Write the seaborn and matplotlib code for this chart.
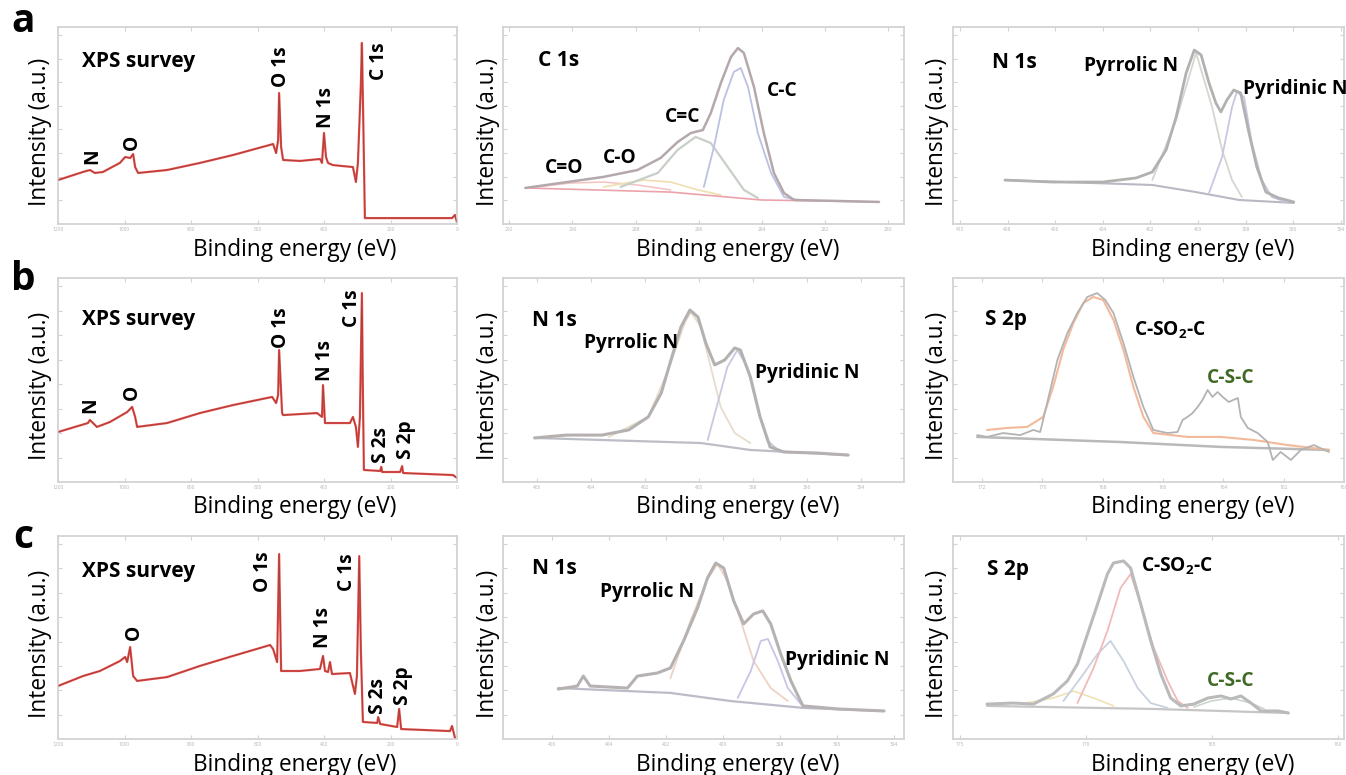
import numpy as np
import matplotlib
matplotlib.use("Agg")
import matplotlib.pyplot as plt
import seaborn as sns

# ---------------- survey spectra (binding energy in eV, intensity in a.u.) ----------------
survey_a_E = [1200, 1125, 1104, 1089, 1065, 1014, 998, 983, 974, 968, 959, 872, 773, 674, 553, 544,
              538, 535, 529, 523, 472, 412, 406, 400, 394, 388, 373, 313, 304, 298, 289, 286, 283,
              277, 171, 15, 6, 0]
survey_a_I = [22.3, 26.4, 27.4, 25.9, 26.4, 31.0, 34.0, 33.5, 35.5, 28.9, 25.9, 27.4, 31.0, 35.0,
              40.6, 36.0, 42.6, 66.5, 39.1, 32.5, 32.0, 33.0, 31.0, 46.2, 34.0, 31.0, 29.9, 28.9,
              21.3, 31.0, 71.6, 91.9, 62.9, 3.0, 3.0, 3.0, 4.6, 0.8]

survey_b_E = [1200, 1110, 1104, 1083, 1044, 992, 977, 968, 962, 872, 773, 674, 556, 544, 538, 535,
              526, 523, 421, 406, 403, 397, 322, 313, 304, 298, 292, 286, 283, 280, 231, 228, 225,
              171, 165, 162, 12, 0]
survey_b_I = [24.5, 28.9, 30.4, 27.0, 29.4, 34.3, 36.8, 31.9, 27.0, 28.9, 33.8, 37.7, 41.7, 38.7,
              42.6, 64.7, 33.8, 32.8, 33.8, 31.9, 47.5, 28.9, 28.9, 31.9, 27.0, 17.2, 31.9, 92.6,
              43.6, 5.9, 5.4, 7.4, 4.9, 4.9, 7.8, 4.4, 3.4, 2.0]

survey_c_E = [1200, 1125, 1074, 1014, 998, 992, 983, 974, 962, 872, 773, 674, 562, 553, 541, 535,
              529, 472, 412, 403, 397, 388, 382, 376, 322, 307, 301, 294, 289, 283, 240, 237, 231,
              180, 174, 168, 21, 15, 6]
survey_c_I = [26.1, 31.0, 33.5, 38.4, 40.4, 37.9, 45.3, 31.0, 28.6, 30.5, 36.0, 40.9, 46.3, 44.3,
              37.9, 91.1, 33.5, 33.5, 34.5, 40.9, 33.5, 33.0, 37.9, 32.0, 32.5, 22.2, 31.0, 90.1,
              42.9, 8.4, 7.9, 10.8, 7.4, 5.9, 14.8, 4.9, 3.9, 6.4, 0.5]

# ---------------- C 1s (a) ----------------
c1s_E = [291.49, 289.02, 287.94, 287.21, 286.67, 286.25, 285.87, 285.62, 285.30, 284.98, 284.76,
         284.57, 284.25, 283.94, 283.62, 283.30, 282.98, 280.29]
c1s_env = [18.3, 23.9, 27.4, 33.5, 41.6, 46.2, 47.7, 56.3, 71.6, 84.8, 89.3, 86.8, 69.5, 46.2,
           25.9, 15.7, 12.2, 11.2]
c1s_bg_E = [291.49, 286.89, 284.03, 280.29]
c1s_bg_I = [18.3, 16.2, 12.2, 11.2]
cc_E = [285.84, 285.52, 285.21, 284.89, 284.67, 284.44, 284.13, 283.71, 283.30, 282.86]
cc_I = [18.8, 39.1, 62.9, 77.2, 79.2, 69.5, 46.2, 25.9, 13.7, 12.2]
cdc_E = [288.48, 287.30, 286.67, 286.10, 285.62, 285.08, 284.57, 284.13]
cdc_I = [18.8, 25.9, 37.6, 44.2, 41.1, 28.9, 17.3, 13.2]
co_E = [289.02, 287.75, 286.89, 286.03, 285.30]
co_I = [18.8, 22.3, 21.3, 17.3, 14.7]
cdo_E = [291.49, 290.06, 289.02, 287.94, 286.89]
cdo_I = [18.3, 20.8, 21.3, 19.8, 17.3]

# ---------------- N 1s (a) ----------------
n1s_a_E = [408.11, 406.11, 404.01, 402.59, 401.92, 401.34, 400.92, 400.50, 400.16, 399.87, 399.54,
           399.25, 399.04, 398.79, 398.50, 398.21, 397.86, 397.53, 397.15, 396.61, 395.98]
n1s_a_env = [22.3, 21.3, 21.3, 23.4, 26.4, 37.6, 54.3, 76.6, 88.3, 85.8, 71.6, 61.4, 56.9, 62.9,
             68.0, 66.5, 46.2, 28.9, 16.2, 13.2, 11.2]
n1s_a_bg_E = [408.11, 401.92, 400.08, 398.28, 395.98]
n1s_a_bg_I = [22.3, 19.8, 16.2, 12.2, 10.7]
pyrr_a_E = [401.92, 400.92, 400.08, 399.41, 398.99, 398.57, 398.16]
pyrr_a_I = [22.3, 52.8, 86.8, 59.4, 37.6, 22.3, 13.7]
pyri_a_E = [399.54, 398.99, 398.57, 398.37, 398.07, 397.74, 397.32, 396.90, 396.31]
pyri_a_I = [15.7, 34.0, 59.4, 67.0, 64.5, 41.1, 22.3, 13.7, 11.2]

# ---------------- N 1s (b) ----------------
n1s_b_E = [406.08, 404.91, 403.59, 402.60, 401.87, 401.39, 401.03, 400.66, 400.33, 400.03, 399.74,
           399.41, 399.04, 398.67, 398.46, 398.09, 397.73, 397.36, 396.85, 395.64, 394.47]
n1s_b_env = [21.6, 23.0, 23.0, 25.5, 31.9, 43.6, 59.8, 76.0, 84.3, 80.9, 68.1, 57.4, 59.8, 65.7,
             64.7, 51.5, 31.9, 17.2, 14.7, 14.2, 13.2]
n1s_b_bg_E = [406.08, 399.92, 398.09, 394.47]
n1s_b_bg_I = [21.6, 19.1, 15.7, 13.2]
pyrr_b_E = [403.33, 401.87, 401.13, 400.51, 400.29, 399.92, 399.56, 399.19, 398.67, 398.09]
pyrr_b_I = [22.1, 31.9, 54.9, 78.4, 83.3, 76.0, 56.4, 36.8, 24.0, 19.1]
pyri_b_E = [399.67, 399.30, 398.94, 398.57, 398.20, 397.84, 397.47, 396.99]
pyri_b_I = [20.6, 38.7, 56.4, 64.7, 56.4, 36.8, 20.6, 14.7]

# ---------------- S 2p (b) ----------------
s2p_b_E = [172.16, 171.83, 171.30, 170.73, 170.30, 170.07, 169.84, 169.50, 169.17, 168.84, 168.51,
           168.18, 167.91, 167.64, 167.31, 166.98, 166.65, 166.32, 165.85, 165.52, 165.35, 165.19,
           165.02, 164.85, 164.69, 164.52, 164.36, 164.19, 164.02, 163.82, 163.52, 163.42, 163.19,
           162.86, 162.53, 162.36, 162.10, 161.76, 161.43, 161.00, 160.50]
s2p_b_raw = [23.0, 22.1, 24.0, 23.0, 25.5, 24.5, 38.7, 59.8, 73.0, 82.8, 90.7, 92.6, 89.2, 82.8,
             68.1, 51.5, 36.8, 25.5, 24.0, 24.5, 30.4, 31.9, 33.8, 36.8, 40.2, 45.1, 41.7, 44.1,
             41.7, 39.2, 41.2, 31.9, 26.5, 24.0, 19.6, 10.8, 14.7, 10.8, 15.7, 18.1, 14.7]
s2p_b_fit_E = [171.83, 171.17, 170.50, 169.97, 169.64, 169.31, 168.97, 168.64, 168.31, 167.98,
               167.64, 167.31, 166.98, 166.65, 166.32, 165.19, 164.09, 162.99, 161.86, 160.50]
s2p_b_fit_I = [25.5, 26.5, 27.0, 31.9, 46.6, 64.7, 77.9, 87.7, 90.7, 89.2, 79.4, 64.7, 46.6, 31.9,
               24.0, 22.1, 22.1, 20.6, 18.1, 15.7]
s2p_b_bg_E = [172.16, 167.41, 164.09, 160.50]
s2p_b_bg_I = [22.1, 19.6, 17.2, 15.7]

# ---------------- N 1s (c) ----------------
n1s_c_E = [405.79, 405.12, 404.91, 404.67, 403.36, 403.01, 402.31, 401.85, 401.39, 400.90, 400.55,
           400.26, 399.98, 399.63, 399.28, 398.93, 398.61, 398.33, 397.98, 397.62, 397.20, 395.97,
           394.35]
n1s_c_env = [24.6, 26.1, 31.0, 26.1, 25.1, 31.0, 32.5, 35.0, 48.3, 64.5, 79.3, 86.7, 84.2, 68.0,
             56.7, 61.6, 63.1, 56.7, 41.9, 28.6, 16.3, 14.8, 13.8]
n1s_c_bg_E = [405.79, 401.85, 399.74, 397.17, 394.35]
n1s_c_bg_I = [25.1, 22.7, 18.7, 15.3, 13.8]
pyrr_c_E = [401.85, 401.15, 400.55, 400.20, 399.84, 399.38, 398.93, 398.33, 397.73]
pyrr_c_I = [30.0, 58.1, 78.8, 86.2, 77.8, 58.1, 38.4, 25.1, 18.7]
pyri_c_E = [399.49, 399.03, 398.68, 398.43, 398.08, 397.73, 397.27]
pyri_c_I = [20.2, 33.5, 48.3, 49.3, 38.4, 25.1, 17.2]

# ---------------- S 2p (c) ----------------
s2p_c_E = [173.93, 172.89, 172.09, 171.30, 170.74, 170.34, 169.94, 169.54, 169.15, 168.91, 168.51,
           168.23, 167.83, 167.43, 167.03, 166.64, 166.24, 165.72, 165.16, 164.64, 164.25, 163.85,
           163.45, 163.05, 162.37, 161.97]
s2p_c_env = [17.2, 17.7, 17.2, 22.2, 28.6, 36.9, 51.7, 66.5, 81.3, 86.7, 87.7, 84.2, 66.5, 48.3,
             32.0, 20.2, 16.3, 17.2, 20.2, 21.2, 19.7, 21.2, 17.7, 13.8, 13.8, 12.8]
s2p_c_p1_E = [170.90, 170.22, 169.54, 169.03, 168.51, 167.95, 167.43, 166.76]
s2p_c_p1_I = [18.7, 30.0, 41.9, 48.3, 38.4, 25.1, 17.7, 15.3]
s2p_c_p2_E = [170.34, 169.70, 169.15, 168.63, 168.23, 167.83, 167.31, 166.76, 166.36, 165.96]
s2p_c_p2_I = [17.7, 35.0, 53.2, 74.4, 81.3, 66.5, 44.8, 28.6, 18.7, 15.3]
s2p_c_p3_E = [172.61, 171.30, 170.50, 169.70, 168.91]
s2p_c_p3_I = [17.2, 20.2, 23.6, 20.2, 16.3]
s2p_c_csc_E = [165.72, 165.04, 164.25, 163.45, 162.93]
s2p_c_csc_I = [15.8, 18.7, 20.2, 17.7, 14.8]
s2p_c_bg_E = [173.93, 167.31, 161.97]
s2p_c_bg_I = [16.3, 14.8, 12.8]

# ---------------- tick labels ----------------
survey_ticks = [1200, 1000, 800, 600, 400, 200, 0]
c1s_ticks = [292, 290, 288, 286, 284, 282, 280]
n1s_a_ticks = [410, 408, 406, 404, 402, 400, 398, 396, 394]
n1s_bc_ticks = [406, 404, 402, 400, 398, 396, 394]
s2p_b_ticks = [172, 170, 168, 166, 164, 162, 160]
s2p_c_ticks = [175, 170, 165, 160]

# ---------------- styling ----------------
sns.set_theme(style="white")
plt.rcParams["font.family"] = ["Open Sans", "DejaVu Sans"]
plt.rcParams["mathtext.fontset"] = "custom"
plt.rcParams["mathtext.bf"] = "Open Sans:bold"
plt.rcParams["mathtext.rm"] = "Open Sans:bold"

W, H = 1346, 775
fig = plt.figure(figsize=(W / 100, H / 100), dpi=100)
fig.patch.set_facecolor("white")

FRAME = "#d3d3d3"
TICKLAB = "#b4b4b4"
GREEN = "#3f6a25"
PEAK = 13.8
TITLE = 15


def add_ax(l, t, r, b):
    return fig.add_axes([l / W, 1 - b / H, (r - l) / W, (b - t) / H])


def style_ax(ax, xlim, xticks):
    ax.set_xlim(*xlim)
    ax.set_ylim(0, 100)
    ax.set_xticks(xticks)
    ax.set_xticklabels([str(t) for t in xticks])
    ax.set_yticks([12, 24, 36, 48, 60, 72, 84, 96])
    ax.set_yticklabels([])
    ax.tick_params(axis="both", direction="in", length=3, width=0.8, color=FRAME,
                   top=True, right=True, left=True, bottom=True,
                   labelsize=3.5, labelcolor=TICKLAB, pad=2)
    for s in ax.spines.values():
        s.set_color(FRAME)
        s.set_linewidth(1.3)
    ax.set_xlabel("")
    ax.set_ylabel("")
    ax.set_facecolor("white")


def line(ax, x, y, color, lw, alpha=1.0, z=2):
    sns.lineplot(x=x, y=y, ax=ax, sort=False, estimator=None, color=color,
                 linewidth=lw, alpha=alpha, legend=False, zorder=z)


def ftext(x, y, s, size=PEAK, color="black", weight="bold", rot=0, ha="center", va="center"):
    fig.text(x / W, 1 - y / H, s, fontsize=size, color=color, fontweight=weight,
             rotation=rot, ha=ha, va=va)


rows = {"a": (27, 224), "b": (278, 482), "c": (536, 739)}
cols = [(58, 457), (503, 904), (953, 1344)]

# ---- survey panels ----
for key, E, I in [("a", survey_a_E, survey_a_I), ("b", survey_b_E, survey_b_I),
                  ("c", survey_c_E, survey_c_I)]:
    t, b = rows[key]
    ax = add_ax(cols[0][0], t, cols[0][1], b)
    line(ax, E, I, "#ea4a44", 1.6)
    line(ax, E, I, "#6e3c3c", 0.5, alpha=0.7, z=3)
    style_ax(ax, (1200, 0), survey_ticks)

# ---- C 1s (a) ----
ax = add_ax(cols[1][0], 27, cols[1][1], 224)
line(ax, cdo_E, cdo_I, "#f3c6c6", 1.2)
line(ax, co_E, co_I, "#efdeb0", 1.2)
line(ax, cdc_E, cdc_I, "#c8cfc6", 1.6)
line(ax, cc_E, cc_I, "#bcc0e2", 1.3)
line(ax, c1s_bg_E, c1s_bg_I, "#eba3ab", 1.2)
line(ax, c1s_E, c1s_env, "#b4a8ac", 1.8, z=3)
style_ax(ax, (292.2, 279.5), c1s_ticks)

# ---- N 1s (a) ----
ax = add_ax(cols[2][0], 27, cols[2][1], 224)
line(ax, n1s_a_bg_E, n1s_a_bg_I, "#b9b9c4", 1.5)
line(ax, pyrr_a_E, pyrr_a_I, "#d2d8cf", 1.3)
line(ax, pyri_a_E, pyri_a_I, "#cbc5e3", 1.3)
line(ax, n1s_a_E, n1s_a_env, "#b3b0b0", 2.0, z=3)
style_ax(ax, (410.29, 393.87), n1s_a_ticks)

# ---- N 1s (b) ----
ax = add_ax(cols[1][0], 278, cols[1][1], 482)
line(ax, n1s_b_bg_E, n1s_b_bg_I, "#bdbdc6", 1.6)
line(ax, pyrr_b_E, pyrr_b_I, "#e6ddcc", 1.3)
line(ax, pyri_b_E, pyri_b_I, "#cbc7e0", 1.3)
line(ax, n1s_b_E, n1s_b_env, "#b5b1b1", 2.2, z=3)
style_ax(ax, (407.25, 392.4), n1s_bc_ticks)

# ---- S 2p (b) ----
ax = add_ax(cols[2][0], 278, cols[2][1], 482)
line(ax, s2p_b_bg_E, s2p_b_bg_I, "#b9b9b9", 1.8)
line(ax, s2p_b_fit_E, s2p_b_fit_I, "#f4b99b", 1.5)
line(ax, s2p_b_E, s2p_b_raw, "#b3b3b3", 1.3, z=3)
style_ax(ax, (172.96, 160.0), s2p_b_ticks)

# ---- N 1s (c) ----
ax = add_ax(cols[1][0], 536, cols[1][1], 739)
line(ax, n1s_c_bg_E, n1s_c_bg_I, "#bcbcc8", 1.6)
line(ax, pyrr_c_E, pyrr_c_I, "#ecd3c4", 1.3)
line(ax, pyri_c_E, pyri_c_I, "#c6c6e6", 1.3)
line(ax, n1s_c_E, n1s_c_env, "#b6b2b2", 2.2, z=3)
style_ax(ax, (407.73, 393.65), n1s_bc_ticks)

# ---- S 2p (c) ----
ax = add_ax(cols[2][0], 536, cols[2][1], 739)
line(ax, s2p_c_bg_E, s2p_c_bg_I, "#c6c6c6", 1.6)
line(ax, s2p_c_p3_E, s2p_c_p3_I, "#efe3b5", 1.2)
line(ax, s2p_c_p1_E, s2p_c_p1_I, "#c9d1e0", 1.3)
line(ax, s2p_c_p2_E, s2p_c_p2_I, "#f2b9b9", 1.3)
line(ax, s2p_c_csc_E, s2p_c_csc_I, "#ccd6cc", 1.2)
line(ax, s2p_c_E, s2p_c_env, "#bababa", 2.2, z=3)
style_ax(ax, (175.28, 159.76), s2p_c_ticks)

# ---- axis titles ----
xlab_y = {"a": 250, "b": 507, "c": 765}
ylab_x = [40, 488, 937]
xlab_x = [295, 738, 1193]
for key, (t, b) in rows.items():
    for j in range(3):
        ftext(xlab_x[j], xlab_y[key], "Binding energy (eV)", size=16.3, weight="normal")
        ftext(ylab_x[j], (t + b) / 2 + 6, "Intensity (a.u.)", size=16.3, weight="normal", rot=90)

# ---- panel letters ----
ftext(23, 22, "a", size=28, weight="bold")
ftext(23, 280, "b", size=28, weight="bold")
ftext(23, 538, "c", size=28, weight="bold")

# ---- survey annotations ----
for y in (62, 320, 571):
    ftext(82, y, "XPS survey", size=TITLE, ha="left")
ftext(281, 67, "O 1s", rot=90)
ftext(326, 108, "N 1s", rot=90)
ftext(379, 61, "C 1s", rot=90)
ftext(92, 156, "N", rot=90)
ftext(132, 142, "O", rot=90)

ftext(281, 328, "O 1s", rot=90)
ftext(325, 360, "N 1s", rot=90)
ftext(352, 308, "C 1s", rot=90)
ftext(90, 405, "N", rot=90)
ftext(132, 392, "O", rot=90)
ftext(381, 445, "S 2s", rot=90)
ftext(406, 440, "S 2p", rot=90)

ftext(263, 572, "O 1s", rot=90)
ftext(347, 572, "C 1s", rot=90)
ftext(323, 628, "N 1s", rot=90)
ftext(134, 632, "O", rot=90)
ftext(378, 696, "S 2s", rot=90)
ftext(403, 686, "S 2p", rot=90)

# ---- high-resolution annotations ----
ftext(538, 61, "C 1s", size=TITLE, ha="left")
ftext(564, 168, "C=O")
ftext(620, 158, "C-O")
ftext(683, 117, "C=C")
ftext(782, 91, "C-C")

ftext(992, 62, "N 1s", size=TITLE, ha="left")
ftext(1131, 66, "Pyrrolic N")
ftext(1295, 89, "Pyridinic N")

ftext(532, 321, "N 1s", size=TITLE, ha="left")
ftext(631, 343, "Pyrrolic N")
ftext(807, 373, "Pyridinic N")

ftext(985, 320, "S 2p", size=TITLE, ha="left")
ftext(1170, 330, r"C-SO$_\mathbf{2}$-C")
ftext(1231, 378, "C-S-C", color=GREEN)

ftext(532, 568, "N 1s", size=TITLE, ha="left")
ftext(647, 592, "Pyrrolic N")
ftext(837, 660, "Pyridinic N")

ftext(987, 570, "S 2p", size=TITLE, ha="left")
ftext(1177, 566, r"C-SO$_\mathbf{2}$-C")
ftext(1231, 681, "C-S-C", color=GREEN)

fig.savefig("out.png", dpi=100, facecolor="white")
